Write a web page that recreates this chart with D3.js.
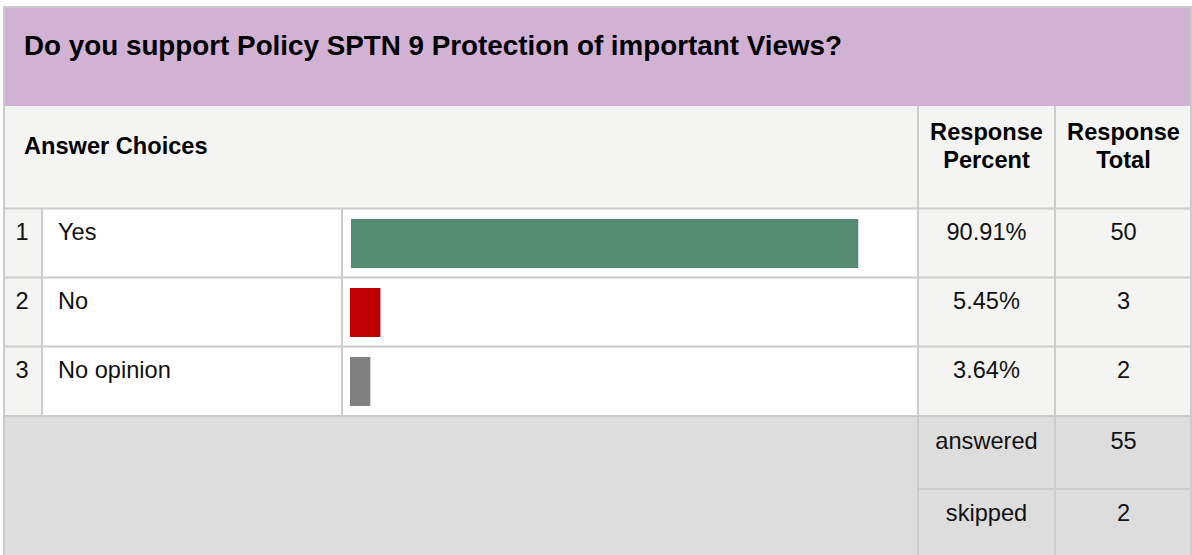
<!doctype html>
<html lang="en">
<head>
<meta charset="utf-8">
<title>SPTN 9 survey</title>
<script src="https://cdn.jsdelivr.net/npm/d3@7"></script>
<style>
  body { margin: 0; background: #fff; }
  svg { display: block; font-family: "Liberation Sans", Arial, sans-serif; }
</style>
</head>
<body>
<svg id="chart" width="1192" height="555"></svg>
<script>
// survey data
var question = "Do you support Policy SPTN 9 Protection of important Views?";
var choices = ["Yes", "No", "No opinion"];
var percents = [90.91, 5.45, 3.64];
var totals = [50, 3, 2];
var summaryLabels = ["answered", "skipped"];
var summaryValues = [55, 2];

var W = 1192, H = 555;
var line = "#cccccc";
var svg = d3.select("#chart");

// column edges
var colNum = 5, colLabel = 42, colBar = 342, colPct = 918, colTot = 1055, colEnd = 1192;
var headTop = 8, headBottom = 106, rowsTop = 209, rowH = 69;

var y = d3.scaleBand().domain(choices).range([rowsTop, rowsTop + rowH * choices.length]);
var x = d3.scaleLinear().domain([0, 100]).range([0, 558]);
var color = d3.scaleOrdinal().domain(choices).range(["#548b73", "#c00000", "#808080"]);

var rowsBottom = rowsTop + rowH * choices.length;
var sumY = d3.scaleBand().domain(summaryLabels).range([rowsBottom + 1, rowsBottom + 1 + 72 * 2]);

// backgrounds
svg.append("rect").attr("x", colNum).attr("y", headTop).attr("width", W - colNum).attr("height", headBottom - headTop).attr("fill", "#d2b2d4");
svg.append("rect").attr("x", colNum).attr("y", headBottom).attr("width", W - colNum).attr("height", rowsTop - headBottom).attr("fill", "#f4f4f3");
svg.append("rect").attr("x", colNum).attr("y", rowsTop).attr("width", colLabel - colNum).attr("height", rowsBottom - rowsTop).attr("fill", "#f4f4f3");
svg.append("rect").attr("x", colPct).attr("y", rowsTop).attr("width", colEnd - colPct).attr("height", rowsBottom - rowsTop).attr("fill", "#f4f4f3");
svg.append("rect").attr("x", colNum).attr("y", rowsBottom).attr("width", W - colNum).attr("height", H - rowsBottom).attr("fill", "#dddddd");

// title
svg.append("text").attr("x", 24).attr("y", 55).attr("font-size", 27.8).attr("font-weight", "bold").attr("fill", "#000").text(question);

// header row
svg.append("text").attr("x", 24).attr("y", 154).attr("font-size", 23.6).attr("font-weight", "bold").attr("fill", "#000").text("Answer Choices");
[["Response", "Percent", (colPct + colTot) / 2], ["Response", "Total", (colTot + colEnd) / 2]].forEach(function(h) {
  var t = svg.append("text").attr("x", h[2]).attr("y", 140).attr("font-size", 23.6).attr("font-weight", "bold")
    .attr("text-anchor", "middle").attr("fill", "#000");
  t.append("tspan").attr("x", h[2]).text(h[0]);
  t.append("tspan").attr("x", h[2]).attr("dy", 28).text(h[1]);
});

// answer rows
var rows = svg.append("g").selectAll("g").data(choices).enter().append("g");
rows.append("text").attr("x", 22).attr("y", function(d) { return y(d) + 31; }).attr("text-anchor", "middle").text(function(d, i) { return i + 1; });
rows.append("text").attr("x", 58).attr("y", function(d) { return y(d) + 31; }).text(function(d) { return d; });
rows.append("rect")
  .attr("x", function(d, i) { return i == 0 ? 351 : 350; })
  .attr("y", function(d) { return y(d) + 10; })
  .attr("width", function(d, i) { return x(percents[i]); })
  .attr("height", 49)
  .attr("fill", function(d) { return color(d); });
rows.append("text").attr("x", (colPct + colTot) / 2).attr("y", function(d) { return y(d) + 31; }).attr("text-anchor", "middle")
  .text(function(d, i) { return percents[i].toFixed(2) + "%"; });
rows.append("text").attr("x", (colTot + colEnd) / 2).attr("y", function(d) { return y(d) + 31; }).attr("text-anchor", "middle")
  .text(function(d, i) { return totals[i]; });
rows.selectAll("text").attr("font-size", 23.6).attr("fill", "#111");

// summary rows
var sums = svg.append("g").selectAll("g").data(summaryLabels).enter().append("g");
sums.append("text").attr("x", (colPct + colTot) / 2).attr("y", function(d) { return sumY(d) + 32; }).attr("text-anchor", "middle").text(function(d) { return d; });
sums.append("text").attr("x", (colTot + colEnd) / 2).attr("y", function(d) { return sumY(d) + 32; }).attr("text-anchor", "middle")
  .text(function(d, i) { return summaryValues[i]; });
sums.selectAll("text").attr("font-size", 23.6).attr("fill", "#111");

// grid lines
var g = svg.append("g").attr("stroke", line).attr("stroke-width", 2).attr("fill", "none");
function hl(y0, x0, x1) { g.append("line").attr("x1", x0).attr("x2", x1).attr("y1", y0).attr("y2", y0); }
function vl(x0, y0, y1) { g.append("line").attr("x1", x0).attr("x2", x0).attr("y1", y0).attr("y2", y1); }
hl(7, 3, W);
vl(4, 6, H);
vl(W - 1, 6, H);
y.domain().forEach(function(d) { hl(y(d) - 0.5, colNum, W); });
hl(rowsBottom, colNum, W);
vl(colLabel, rowsTop, rowsBottom);
vl(colBar, rowsTop, rowsBottom);
vl(colPct, headBottom, H);
vl(colTot, headBottom, H);
hl(sumY(summaryLabels[1]), colPct, W);
</script>
</body>
</html>
